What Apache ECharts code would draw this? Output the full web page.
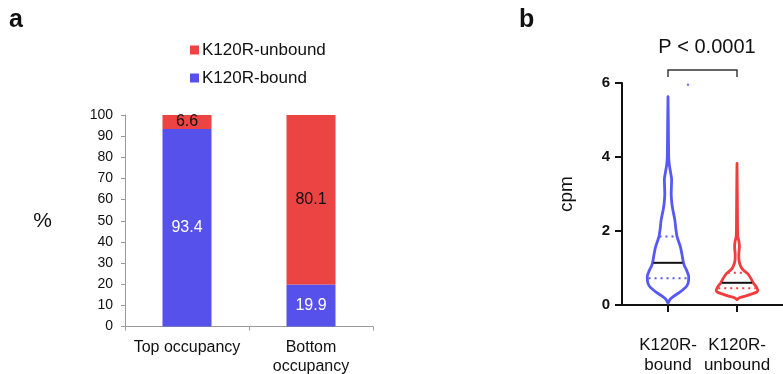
<!DOCTYPE html>
<html>
<head>
<meta charset="utf-8">
<style>
  html, body { margin: 0; padding: 0; background: #fff; }
  #chart { width: 783px; height: 374px; }
</style>
<script src="https://cdn.jsdelivr.net/npm/echarts@6/dist/echarts.min.js"></script>
</head>
<body>
<div id="chart"></div>
<script>
// ---- Panel a: occupancy composition (%) ----
const occupancyGroups = ['Top occupancy', 'Bottom\noccupancy'];
const boundPct = [93.4, 19.9];
const unboundPct = [6.6, 80.1];
const seriesNames = ['K120R-bound', 'K120R-unbound'];

// ---- Panel b: cpm distributions (violin profiles) ----
const violinGroups = ['K120R-\nbound', 'K120R-\nunbound'];
// cpm levels (top to bottom) and relative density at each level
const boundCpm = [5.63, 5.0, 4.4, 4.0, 3.8, 3.6, 3.4, 3.2, 3.0, 2.75, 2.57, 2.3, 2.05, 1.84, 1.57, 1.35, 1.16, 1.05, 0.95, 0.8, 0.72, 0.6, 0.49, 0.35, 0.22, 0.15, 0.05];
const boundDensity = [0, 0.015, 0.025, 0.035, 0.06, 0.12, 0.175, 0.165, 0.155, 0.185, 0.235, 0.33, 0.38, 0.44, 0.6, 0.68, 0.74, 0.8, 0.89, 0.99, 1.0, 0.975, 0.87, 0.575, 0.235, 0.1, 0];
const unboundCpm = [3.83, 3.0, 2.2, 1.85, 1.7, 1.55, 1.4, 1.21, 1.03, 0.93, 0.86, 0.72, 0.6, 0.49, 0.4, 0.35, 0.3, 0.24, 0.19, 0.14];
const unboundDensity = [0, 0.015, 0.025, 0.04, 0.1, 0.115, 0.09, 0.095, 0.19, 0.33, 0.495, 0.67, 0.78, 0.935, 1.0, 0.96, 0.72, 0.4, 0.1, 0];
// [Q1, median, Q3]
const boundQuartiles = [0.72, 1.14, 1.85];
const unboundQuartiles = [0.45, 0.6, 0.87];
const strayPoint = [1.29, 5.95];
const pValueText = 'P < 0.0001';
const cpmTicks = [0, 2, 4, 6];

const BLUE_BAR = '#5651ea';
const RED_BAR = '#ec4343';
const BLUE_LINE = '#5858f4';
const RED_LINE = '#f23d3d';
const FONT = '"Liberation Sans", Arial, Helvetica, sans-serif';
const HALF_WIDTH = 0.3; // widest violin half-width in x-axis units

const violins = [
  { x: 1, cpm: boundCpm, density: boundDensity, q: boundQuartiles, color: BLUE_LINE },
  { x: 2, cpm: unboundCpm, density: unboundDensity, q: unboundQuartiles, color: RED_LINE }
];

function densityAt(v, y) {
  for (let k = 0; k < v.cpm.length - 1; k++) {
    const a = v.cpm[k], b = v.cpm[k + 1];
    if (y <= a && y >= b) {
      const t = (a - y) / (a - b);
      return v.density[k] + t * (v.density[k + 1] - v.density[k]);
    }
  }
  return 0;
}

function renderViolin(params, api) {
  const v = violins[params.dataIndex];
  const cx = api.value(0);
  const right = [], left = [];
  for (let k = 0; k < v.cpm.length; k++) {
    right.push(api.coord([cx + v.density[k] * HALF_WIDTH, v.cpm[k]]));
    left.push(api.coord([cx - v.density[k] * HALF_WIDTH, v.cpm[k]]));
  }
  const outline = right.concat(left.reverse());
  const children = [{
    type: 'polygon',
    shape: { points: outline, smooth: 0.2 },
    style: { fill: '#fff', stroke: v.color, lineWidth: 2.8, lineJoin: 'round' }
  }];
  v.q.forEach(function (qv, qi) {
    const w = densityAt(v, qv) * HALF_WIDTH * 0.94;
    const p1 = api.coord([cx - w, qv]);
    const p2 = api.coord([cx + w, qv]);
    children.push({
      type: 'line',
      shape: { x1: p1[0], y1: p1[1], x2: p2[0], y2: p2[1] },
      style: qi === 1
        ? { stroke: '#111', lineWidth: 2 }
        : { stroke: v.color, lineWidth: 2, lineDash: [2, 4] }
    });
  });
  return { type: 'group', children: children };
}

function renderBracket(params, api) {
  const a = api.coord([api.value(0), 6.16]);
  const b = api.coord([api.value(0), 6.35]);
  const c = api.coord([api.value(1), 6.35]);
  const d = api.coord([api.value(1), 6.16]);
  return {
    type: 'polyline',
    shape: { points: [a, b, c, d] },
    style: { fill: 'none', stroke: '#333', lineWidth: 1.4 }
  };
}

const chart = echarts.init(document.getElementById('chart'), null, { renderer: 'canvas' });

const option = {
  animation: false,
  backgroundColor: '#fff',
  textStyle: { fontFamily: FONT },
  legend: {
    data: ['K120R-unbound', 'K120R-bound'],
    orient: 'vertical',
    left: 190,
    top: 41,
    padding: 0,
    itemWidth: 9,
    itemHeight: 9,
    itemGap: 10,
    icon: 'rect',
    selectedMode: false,
    textStyle: { fontSize: 17, color: '#111', fontFamily: FONT, lineHeight: 18, padding: [0, 0, 0, -2] }
  },
  graphic: [
    { type: 'text', left: 9, top: 8, style: { text: 'a', font: 'bold 25px ' + FONT, fill: '#111' } },
    { type: 'text', left: 519, top: 8, style: { text: 'b', font: 'bold 25px ' + FONT, fill: '#111' } },
    { type: 'text', x: 707, y: 47, style: { text: pValueText, font: '20px ' + FONT, fill: '#111', align: 'center', verticalAlign: 'middle' } }
  ],
  grid: [
    { left: 125, right: 410, top: 115, bottom: 47.5, containLabel: false, outerBoundsMode: 'none' },
    { left: 622, right: 0, top: 83, bottom: 69, containLabel: false, outerBoundsMode: 'none' }
  ],
  xAxis: [
    {
      gridIndex: 0,
      type: 'category',
      data: occupancyGroups,
      axisLine: { lineStyle: { color: '#9a9a9a', width: 1 } },
      axisTick: { show: true, length: 4, lineStyle: { color: '#9a9a9a' } },
      axisLabel: { interval: 0, hideOverlap: false, fontSize: 16, color: '#111', margin: 12, lineHeight: 19, fontFamily: FONT }
    },
    {
      gridIndex: 1,
      type: 'value',
      min: 1 / 3,
      max: 8 / 3,
      splitLine: { show: false },
      axisLine: { lineStyle: { color: '#111', width: 2 } },
      axisTick: { show: true, customValues: [1, 2], length: 7, lineStyle: { color: '#111', width: 2 } },
      axisLabel: {
        customValues: [1, 2],
        formatter: function (val) { return violinGroups[Math.round(val) - 1]; },
        fontSize: 17, color: '#111', margin: 30, lineHeight: 20, fontFamily: FONT
      }
    }
  ],
  yAxis: [
    {
      gridIndex: 0,
      type: 'value',
      min: 0,
      max: 100,
      interval: 10,
      name: '%',
      nameLocation: 'middle',
      nameRotate: 0,
      nameGap: 73,
      nameTextStyle: { fontSize: 21, color: '#111', fontFamily: FONT },
      splitLine: { show: false },
      axisLine: { show: true, lineStyle: { color: '#9a9a9a', width: 1 } },
      axisTick: { show: true, length: 4, lineStyle: { color: '#9a9a9a' } },
      axisLabel: { fontSize: 14, color: '#111', margin: 12, fontFamily: FONT }
    },
    {
      gridIndex: 1,
      type: 'value',
      min: 0,
      max: 6,
      interval: 2,
      name: 'cpm',
      nameLocation: 'middle',
      nameGap: 46,
      nameTextStyle: { fontSize: 19, color: '#111', fontFamily: FONT },
      splitLine: { show: false },
      axisLine: { show: true, lineStyle: { color: '#111', width: 2 } },
      axisTick: { show: true, length: 7, lineStyle: { color: '#111', width: 2 } },
      axisLabel: {
        fontSize: 15, fontWeight: 'bold', color: '#111', margin: 12, fontFamily: FONT,
        formatter: function (val) { return cpmTicks.indexOf(val) >= 0 ? String(val) : ''; }
      }
    }
  ],
  series: [
    {
      name: seriesNames[0],
      type: 'bar',
      xAxisIndex: 0,
      yAxisIndex: 0,
      stack: 'occ',
      barWidth: 49,
      data: boundPct,
      itemStyle: { color: BLUE_BAR },
      label: { show: true, position: 'inside', color: '#fff', fontSize: 16, fontFamily: FONT }
    },
    {
      name: seriesNames[1],
      type: 'bar',
      xAxisIndex: 0,
      yAxisIndex: 0,
      stack: 'occ',
      barWidth: 49,
      data: unboundPct,
      itemStyle: { color: RED_BAR },
      label: { show: true, position: 'inside', color: '#111', fontSize: 16, fontFamily: FONT }
    },
    {
      type: 'custom',
      xAxisIndex: 1,
      yAxisIndex: 1,
      renderItem: renderViolin,
      clip: false,
      encode: { x: 0, y: 1 },
      data: violins.map(function (v) { return [v.x, v.cpm[0]]; }),
      silent: true,
      z: 3
    },
    {
      type: 'custom',
      xAxisIndex: 1,
      yAxisIndex: 1,
      renderItem: renderBracket,
      clip: false,
      encode: { x: [0, 1] },
      data: [[violins[0].x, violins[1].x]],
      silent: true
    },
    {
      type: 'scatter',
      xAxisIndex: 1,
      yAxisIndex: 1,
      symbolSize: 2.5,
      data: [strayPoint],
      itemStyle: { color: BLUE_LINE },
      silent: true
    }
  ]
};

chart.setOption(option);
</script>
</body>
</html>
